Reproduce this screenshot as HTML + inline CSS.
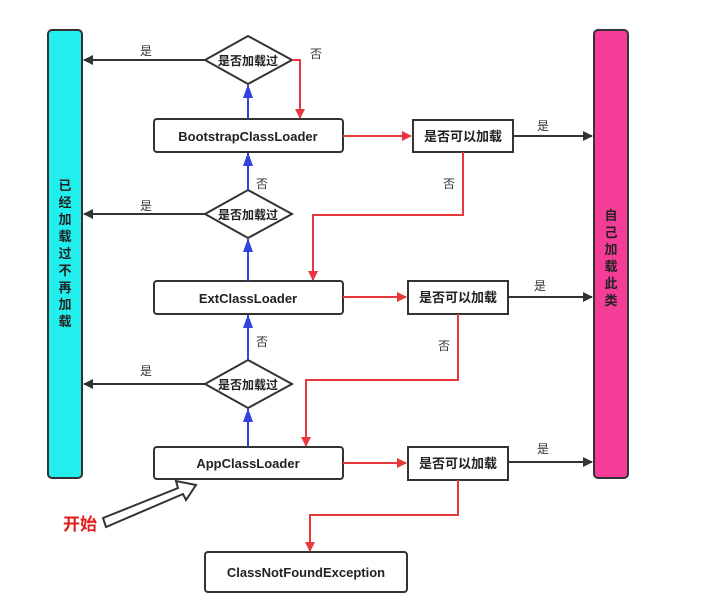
<!DOCTYPE html>
<html><head><meta charset="utf-8"><style>
body{margin:0;background:#fff;}
svg text{font-family:"Liberation Sans","Noto Sans CJK SC",sans-serif;}
</style></head><body>
<svg width="720" height="601" viewBox="0 0 720 601" xmlns="http://www.w3.org/2000/svg">
<defs>
<marker id="k" markerWidth="10" markerHeight="10" refX="9" refY="5" orient="auto" markerUnits="userSpaceOnUse"><path d="M0,0 L10,5 L0,10 z" fill="#333"/></marker>
<marker id="r" markerWidth="10" markerHeight="10" refX="9" refY="5" orient="auto" markerUnits="userSpaceOnUse"><path d="M0,0 L10,5 L0,10 z" fill="#e8383d"/></marker>
<marker id="b" markerWidth="10" markerHeight="14" refX="13" refY="5" orient="auto" markerUnits="userSpaceOnUse"><path d="M0,0 L14,5 L0,10 z" fill="#3344dd"/></marker>
</defs>
<rect x="48" y="30" width="34" height="448" rx="4" fill="#22eeee" stroke="#333" stroke-width="2"/>
<rect x="594" y="30" width="34" height="448" rx="4" fill="#f53d98" stroke="#333" stroke-width="2"/>
<text x="65" y="190" font-size="13" font-weight="bold" fill="#222" text-anchor="middle"><tspan x="65" dy="0">已</tspan><tspan x="65" dy="17">经</tspan><tspan x="65" dy="17">加</tspan><tspan x="65" dy="17">载</tspan><tspan x="65" dy="17">过</tspan><tspan x="65" dy="17">不</tspan><tspan x="65" dy="17">再</tspan><tspan x="65" dy="17">加</tspan><tspan x="65" dy="17">载</tspan></text>
<text x="611" y="220" font-size="13" font-weight="bold" fill="#222" text-anchor="middle"><tspan x="611" dy="0">自</tspan><tspan x="611" dy="17">己</tspan><tspan x="611" dy="17">加</tspan><tspan x="611" dy="17">载</tspan><tspan x="611" dy="17">此</tspan><tspan x="611" dy="17">类</tspan></text>

<g fill="#fff" stroke="#333" stroke-width="2">
<rect x="154" y="119" width="189" height="33" rx="3"/>
<rect x="154" y="281" width="189" height="33" rx="3"/>
<rect x="154" y="447" width="189" height="32" rx="3"/>
<rect x="413" y="120" width="100" height="32"/>
<rect x="408" y="281" width="100" height="33"/>
<rect x="408" y="447" width="100" height="33"/>
<rect x="205" y="552" width="202" height="40" rx="3"/>
<polygon points="205,60 248,36 292,60 248,84"/>
<polygon points="205,214 248,190 292,214 248,238"/>
<polygon points="205,384 248,360 292,384 248,408"/>
</g>
<g font-size="13" font-weight="bold" fill="#222" text-anchor="middle">
<text x="248" y="141">BootstrapClassLoader</text>
<text x="248" y="303">ExtClassLoader</text>
<text x="248" y="468">AppClassLoader</text>
<text x="306" y="577">ClassNotFoundException</text>
<text x="463" y="141">是否可以加载</text>
<text x="458" y="302">是否可以加载</text>
<text x="458" y="468">是否可以加载</text>
</g>
<g font-size="12" font-weight="bold" fill="#222" text-anchor="middle">
<text x="248" y="65">是否加载过</text>
<text x="248" y="219">是否加载过</text>
<text x="248" y="389">是否加载过</text>
</g>
<g font-size="12" fill="#333" text-anchor="middle">
<text x="146" y="55">是</text><text x="146" y="210">是</text><text x="146" y="375">是</text>
<text x="316" y="58">否</text><text x="262" y="188">否</text><text x="262" y="346">否</text>
<text x="543" y="130">是</text><text x="540" y="290">是</text><text x="543" y="453">是</text>
<text x="449" y="188">否</text><text x="444" y="350">否</text>
</g>
<g stroke="#333" stroke-width="2" fill="none" marker-end="url(#k)">
<line x1="205" y1="60" x2="84" y2="60"/>
<line x1="205" y1="214" x2="84" y2="214"/>
<line x1="205" y1="384" x2="84" y2="384"/>
<line x1="513" y1="136" x2="592" y2="136"/>
<line x1="508" y1="297" x2="592" y2="297"/>
<line x1="508" y1="462" x2="592" y2="462"/>
</g>
<g stroke="#3344dd" stroke-width="2" fill="none" marker-end="url(#b)">
<line x1="248" y1="119" x2="248" y2="85"/>
<line x1="248" y1="190" x2="248" y2="153"/>
<line x1="248" y1="281" x2="248" y2="239"/>
<line x1="248" y1="360" x2="248" y2="315"/>
<line x1="248" y1="447" x2="248" y2="409"/>
</g>
<g stroke="#e8383d" stroke-width="2" fill="none" marker-end="url(#r)">
<polyline points="292,60 300,60 300,118"/>
<line x1="343" y1="136" x2="411" y2="136"/>
<line x1="343" y1="297" x2="406" y2="297"/>
<line x1="343" y1="463" x2="406" y2="463"/>
<polyline points="463,152 463,215 313,215 313,280"/>
<polyline points="458,314 458,380 306,380 306,446"/>
<polyline points="458,480 458,515 310,515 310,551"/>
</g>
<text x="80" y="530" font-size="17" font-weight="bold" fill="#e02020" text-anchor="middle">开始</text>
<polygon points="103,518 178,488 176,481 196,485 186,500 183,494 106,527" fill="#fff" stroke="#333" stroke-width="2"/>
</svg>
</body></html>
